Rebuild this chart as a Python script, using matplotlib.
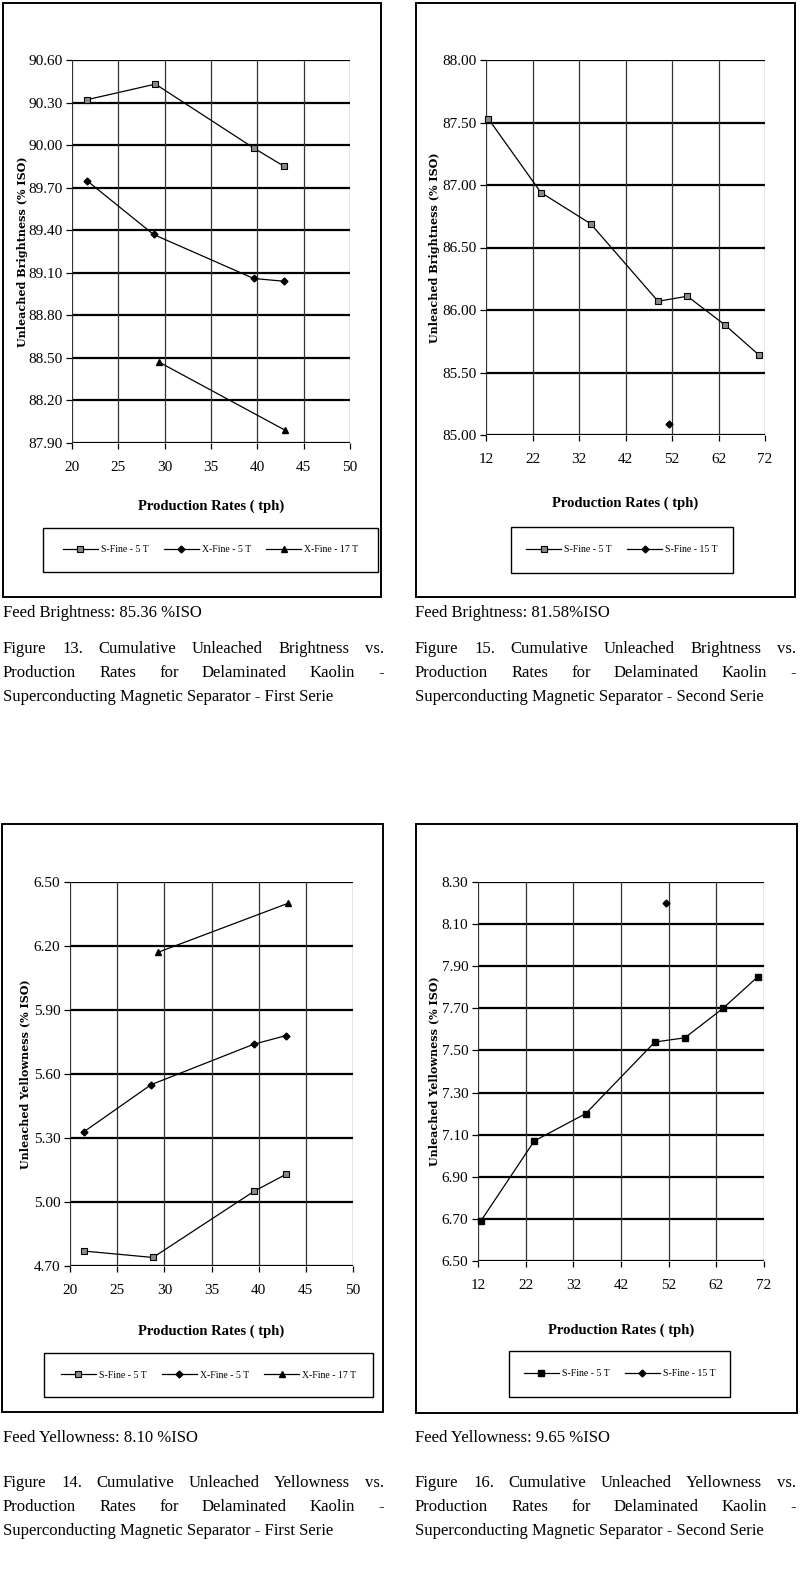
import matplotlib
matplotlib.use('Agg')
import matplotlib.pyplot as plt
from matplotlib.patches import Rectangle

# ---------------- data ----------------
f13_sfine5_x = [21.6, 29.0, 39.6, 42.9]
f13_sfine5_y = [90.32, 90.43, 89.98, 89.85]
f13_xfine5_x = [21.6, 28.8, 39.6, 42.9]
f13_xfine5_y = [89.75, 89.37, 89.06, 89.04]
f13_xfine17_x = [29.4, 43.0]
f13_xfine17_y = [88.47, 87.99]

f15_sfine5_x = [12.5, 23.8, 34.5, 49.0, 55.3, 63.4, 70.7]
f15_sfine5_y = [87.53, 86.94, 86.69, 86.07, 86.11, 85.88, 85.64]
f15_sfine15_x = [51.4]
f15_sfine15_y = [85.09]

f14_sfine5_x = [21.5, 28.8, 39.5, 42.9]
f14_sfine5_y = [4.77, 4.74, 5.05, 5.13]
f14_xfine5_x = [21.5, 28.6, 39.5, 42.9]
f14_xfine5_y = [5.33, 5.55, 5.74, 5.78]
f14_xfine17_x = [29.3, 43.1]
f14_xfine17_y = [6.17, 6.40]

f16_sfine5_x = [12.6, 23.8, 34.6, 49.1, 55.4, 63.4, 70.7]
f16_sfine5_y = [6.69, 7.07, 7.20, 7.54, 7.56, 7.70, 7.85]
f16_sfine15_x = [51.4]
f16_sfine15_y = [8.20]

left_xticks = [20, 25, 30, 35, 40, 45, 50]
right_xticks = [12, 22, 32, 42, 52, 62, 72]
f13_yticks = [87.90, 88.20, 88.50, 88.80, 89.10, 89.40, 89.70, 90.00, 90.30, 90.60]
f15_yticks = [85.00, 85.50, 86.00, 86.50, 87.00, 87.50, 88.00]
f14_yticks = [4.70, 5.00, 5.30, 5.60, 5.90, 6.20, 6.50]
f16_yticks = [6.50, 6.70, 6.90, 7.10, 7.30, 7.50, 7.70, 7.90, 8.10, 8.30]

lab_s5 = "S-Fine - 5 T"
lab_x5 = "X-Fine - 5 T"
lab_x17 = "X-Fine - 17 T"
lab_s15 = "S-Fine - 15 T"

xlabel_txt = "Production Rates ( tph)"
ylab_bright = "Unleached Brightness (% ISO)"
ylab_yellow = "Unleached Yellowness (% ISO)"

feed_texts = ["Feed Brightness: 85.36 %ISO", "Feed Brightness: 81.58%ISO",
              "Feed Yellowness: 8.10 %ISO", "Feed Yellowness: 9.65 %ISO"]
captions = [
    ["Figure 13. Cumulative Unleached Brightness vs.",
     "Production Rates for Delaminated Kaolin -",
     "Superconducting Magnetic Separator - First Serie"],
    ["Figure 15. Cumulative Unleached Brightness vs.",
     "Production Rates for Delaminated Kaolin -",
     "Superconducting Magnetic Separator - Second Serie"],
    ["Figure 14. Cumulative Unleached Yellowness vs.",
     "Production Rates for Delaminated Kaolin -",
     "Superconducting Magnetic Separator - First Serie"],
    ["Figure 16. Cumulative Unleached Yellowness vs.",
     "Production Rates for Delaminated Kaolin -",
     "Superconducting Magnetic Separator - Second Serie"],
]

# ---------------- layout helpers ----------------
W, H = 800, 1569
fig = plt.figure(figsize=(8, 15.69), dpi=100)
SERIF = "Liberation Serif"


def fx(x):
    return x / W


def fy(y):
    return 1 - y / H


def rect_px(x0, y0, x1, y1, lw=1.4):
    fig.patches.append(Rectangle((fx(x0), fy(y1)), fx(x1) - fx(x0), fy(y0) - fy(y1),
                                 transform=fig.transFigure, fill=False,
                                 edgecolor='black', linewidth=lw))


sq_style = dict(marker='s', markersize=5, markerfacecolor='#8a8a8a',
                markeredgecolor='black', markeredgewidth=0.8)
sq_black = dict(marker='s', markersize=5, markerfacecolor='black',
                markeredgecolor='black')
dia_style = dict(marker='D', markersize=3.5, markerfacecolor='black',
                 markeredgecolor='black')
tri_style = dict(marker='^', markersize=5, markerfacecolor='black',
                 markeredgecolor='black')


def draw_chart(box, axpx, xlim, xticks, yticks, series, ylabel, ylabel_x,
               legend_px, xlabel_y):
    rect_px(*box)
    l, t, r, b = axpx
    ax = fig.add_axes([fx(l), fy(b), fx(r) - fx(l), fy(t) - fy(b)])
    ax.set_xlim(*xlim)
    ax.set_ylim(yticks[0], yticks[-1])
    ax.set_xticks(xticks)
    ax.set_yticks(yticks)
    ax.set_yticklabels([f"{v:.2f}" for v in yticks])
    ax.set_xticklabels([str(v) for v in xticks])
    for v in yticks:
        ax.axhline(v, color='black', lw=1.6, zorder=1)
    for v in xticks:
        ax.axvline(v, color='#333333', lw=0.9, zorder=1)
    for s in ax.spines.values():
        s.set_visible(False)
    ax.tick_params(axis='both', direction='out', length=4, width=0.9,
                   labelsize=11, color='black')
    ax.tick_params(axis='x', pad=9)
    ax.tick_params(axis='y', pad=3)
    for lab in ax.get_xticklabels() + ax.get_yticklabels():
        lab.set_fontfamily(SERIF)
    handles = []
    for xs, ys, lab, st in series:
        ln, = ax.plot(xs, ys, color='black', lw=0.9, zorder=3, label=lab,
                      clip_on=False, **st)
        handles.append(ln)
    fig.text(fx(ylabel_x), fy((t + b) / 2), ylabel, rotation=90, ha='center',
             va='center', fontfamily='DejaVu Serif', fontweight='bold', fontsize=8.0)
    fig.text(fx((l + r) / 2), fy(xlabel_y), xlabel_txt, ha='center', va='center',
             fontfamily=SERIF, fontweight='bold', fontsize=10.5)
    lx0, ly0, lx1, ly1 = legend_px
    rect_px(lx0, ly0, lx1, ly1, lw=1.0)
    fig.legend(handles=handles, loc='center',
               bbox_to_anchor=(fx((lx0 + lx1) / 2), fy((ly0 + ly1) / 2)),
               ncol=len(handles), frameon=False, handlelength=3.6,
               columnspacing=1.6, handletextpad=0.3,
               prop={'family': SERIF, 'size': 7})
    return ax


draw_chart((3, 3, 381, 597), (72, 60, 350, 443), (20, 50), left_xticks, f13_yticks,
           [(f13_sfine5_x, f13_sfine5_y, lab_s5, sq_style),
            (f13_xfine5_x, f13_xfine5_y, lab_x5, dia_style),
            (f13_xfine17_x, f13_xfine17_y, lab_x17, tri_style)],
           ylab_bright, 23, (43, 528, 378, 572), 506)

draw_chart((416, 3, 795, 597), (486, 60, 765, 435), (12, 72), right_xticks, f15_yticks,
           [(f15_sfine5_x, f15_sfine5_y, lab_s5, sq_style),
            (f15_sfine15_x, f15_sfine15_y, lab_s15, dia_style)],
           ylab_bright, 435, (511, 527, 733, 573), 503)

draw_chart((2, 824, 383, 1412), (70, 882, 353, 1266), (20, 50), left_xticks, f14_yticks,
           [(f14_sfine5_x, f14_sfine5_y, lab_s5, sq_style),
            (f14_xfine5_x, f14_xfine5_y, lab_x5, dia_style),
            (f14_xfine17_x, f14_xfine17_y, lab_x17, tri_style)],
           ylab_yellow, 25, (44, 1353, 373, 1397), 1331)

draw_chart((416, 824, 797, 1413), (478, 882, 764, 1261), (12, 72), right_xticks, f16_yticks,
           [(f16_sfine5_x, f16_sfine5_y, lab_s5, sq_black),
            (f16_sfine15_x, f16_sfine15_y, lab_s15, dia_style)],
           ylab_yellow, 434, (509, 1351, 730, 1397), 1330)

# ---------------- captions ----------------
renderer = fig.canvas.get_renderer()
CAP_FS = 12


def justified(line, x0, x1, y, justify=True):
    if not justify:
        fig.text(fx(x0), fy(y), line, ha='left', va='center', fontfamily=SERIF,
                 fontsize=CAP_FS)
        return
    words = line.split(' ')
    texts = [fig.text(fx(x0), fy(y), w, ha='left', va='center', fontfamily=SERIF,
                      fontsize=CAP_FS) for w in words]
    widths = [tt.get_window_extent(renderer).width for tt in texts]
    gap = (x1 - x0 - sum(widths)) / (len(words) - 1)
    x = x0
    for tt, w in zip(texts, widths):
        tt.set_x(fx(x))
        x += w + gap


col_x = [(3, 384), (415, 796)]
feed_y = [613, 1438]
cap_y = [[649, 673, 697], [1483, 1507, 1531]]
for i in range(4):
    row, col = divmod(i, 2)
    x0, x1 = col_x[col]
    fig.text(fx(x0), fy(feed_y[row]), feed_texts[i], ha='left', va='center',
             fontfamily=SERIF, fontsize=CAP_FS)
    for j, line in enumerate(captions[i]):
        justified(line, x0, x1, cap_y[row][j], justify=(j < 2))

fig.savefig("out.png", dpi=100, facecolor='white')
